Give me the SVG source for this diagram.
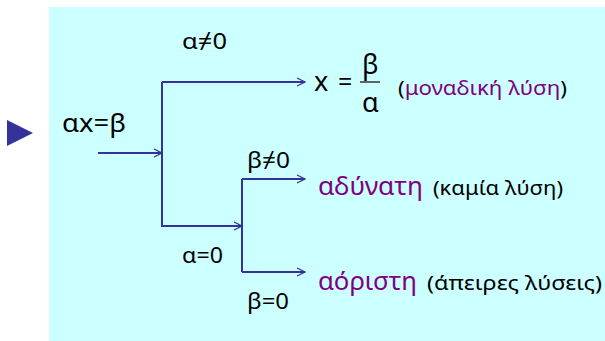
<svg xmlns="http://www.w3.org/2000/svg" width="605" height="341" viewBox="0 0 605 341">
<style>
.t{font-family:"Noto Sans","Open Sans",sans-serif;fill:#000}
.big{font-size:25px}
.mid{font-size:22px}
.sm{font-size:19px}
.frac{font-size:27px}
.p{fill:#800080}
.c{fill:none;stroke:#333399;stroke-width:2}
</style>
<defs>
<marker id="ah" markerUnits="userSpaceOnUse" markerWidth="12" markerHeight="10" refX="9" refY="5" orient="auto">
<path d="M1,1 L9,5 L1,9" fill="none" stroke="#333399" stroke-width="1.3"/>
</marker>
</defs>
<rect x="49" y="7" width="556" height="334" fill="#CCFFFF"/>
<g id="bullet"><polygon points="7,120 33,133 7,146" fill="#333399"/></g>
<g id="connectors">
<path class="c" d="M98,153 H162" marker-end="url(#ah)"/>
<path class="c" d="M162,82 H305" marker-end="url(#ah)"/>
<path class="c" d="M162,82 V226 H242" marker-end="url(#ah)"/>
<path class="c" d="M242,179 V272"/>
<path class="c" d="M242,179 H305" marker-end="url(#ah)"/>
<path class="c" d="M242,272 H305" marker-end="url(#ah)"/>
</g>
<g id="equation"><text class="t big" x="62" y="132" textLength="64" lengthAdjust="spacingAndGlyphs">αx=β</text></g>
<g id="label-a-ne-0"><text class="t mid" x="182" y="49" textLength="45" lengthAdjust="spacingAndGlyphs">α≠0</text></g>
<g id="label-a-eq-0"><text class="t mid" x="182" y="263" textLength="41" lengthAdjust="spacingAndGlyphs">α=0</text></g>
<g id="label-b-ne-0"><text class="t mid" x="247" y="168" textLength="43" lengthAdjust="spacingAndGlyphs">β≠0</text></g>
<g id="label-b-eq-0"><text class="t mid" x="247" y="309" textLength="42" lengthAdjust="spacingAndGlyphs">β=0</text></g>
<g id="result-unique">
<text class="t frac" x="314" y="91">x</text>
<text class="t big" x="338" y="91">=</text>
<text class="t frac" x="362" y="74">β</text>
<line x1="360" y1="82" x2="380" y2="82" stroke="#333" stroke-width="1.5"/>
<text class="t frac" x="362" y="112">α</text>
<text class="t sm" x="398" y="95" textLength="169" lengthAdjust="spacingAndGlyphs">(<tspan class="p">μοναδική λύση</tspan>)</text>
</g>
<g id="result-impossible">
<text class="t big p" x="318" y="195" textLength="105" lengthAdjust="spacingAndGlyphs">αδύνατη</text>
<text class="t sm" x="433" y="195" textLength="130" lengthAdjust="spacingAndGlyphs">(καμία λύση)</text>
</g>
<g id="result-indeterminate">
<text class="t big p" x="318" y="290" textLength="99" lengthAdjust="spacingAndGlyphs">αόριστη</text>
<text class="t sm" x="427" y="290" textLength="175" lengthAdjust="spacingAndGlyphs">(άπειρες λύσεις)</text>
</g>
</svg>
